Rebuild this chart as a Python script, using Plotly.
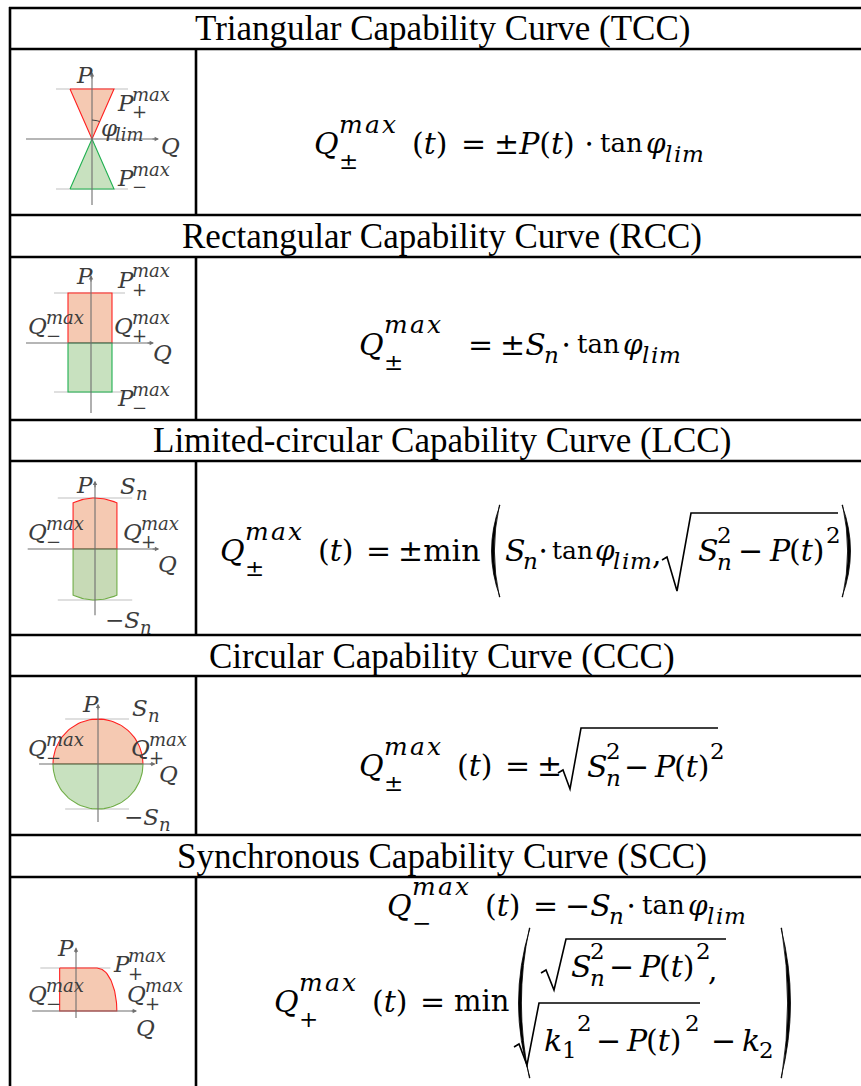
import numpy as np
import plotly.graph_objects as go

W, H = 861, 1086
MATH = "DejaVu Serif"
TITLE = "Liberation Serif"

# ---------------- data (normalised capability-curve parameters) ----------------
titles = ["Triangular Capability Curve (TCC)",
          "Rectangular Capability Curve (RCC)",
          "Limited-circular Capability Curve (LCC)",
          "Circular Capability Curve (CCC)",
          "Synchronous Capability Curve (SCC)"]
tcc_p_max = [1.0, 1.0]          # P+max, P-max
tcc_tan_phi = 0.44
rcc_p_max = [1.0, 0.98]
rcc_q_max = [0.46, 0.42]        # Q-max, Q+max
lcc_s_n = 1.0
lcc_q_lim = 0.43
ccc_s_n = 1.0
scc_p_max = 1.0
scc_q_minus = 0.38
scc_q_plus_top = 0.49
scc_q_plus_zero = 0.95

RED_FILL = "rgba(244,198,174,0.95)"
GREEN_FILL = "rgba(197,223,188,0.95)"
RED = "#ff2020"
GREEN = "#20b050"
AX = "#6f6f6f"
REF = "#c0c0c0"
LAB = "#3c3c3c"

fig = go.Figure()
annotations = []
shapes = []


def txt(x, y, s, size, italic=False, xanchor="left", color="black", family=MATH):
    if italic:
        s = f"<i>{s}</i>"
    annotations.append(dict(x=x / W, y=1 - y / H, xref="paper", yref="paper", text=s,
                            showarrow=False, xanchor=xanchor, yanchor="middle",
                            font=dict(size=size, family=family, color=color)))


SCW = {"m": 25, "a": 16, "x": 16, "l": 9, "i": 9, "n": 16}


def sc(x, y, s, size=24, italic=True, color="black"):
    """script text, letters spaced like the math font of the reference"""
    for ch in s:
        txt(x, y, ch, size, italic=italic, color=color)
        x += SCW.get(ch, 14) * size / 24


def line(x0, y0, x1, y1, w=2.6, color="black"):
    shapes.append(dict(type="line", xref="paper", yref="paper",
                       x0=x0 / W, y0=1 - y0 / H, x1=x1 / W, y1=1 - y1 / H,
                       line=dict(color=color, width=w)))


def pt(x, y):
    return f"{x / W:.5f},{1 - y / H:.5f}"


def big_paren(x_end, x_mid, y0, y1, left=True, thick=3.2):
    ym = (y0 + y1) / 2
    s = 1 if left else -1
    d = (f"M{pt(x_end, y0)} Q{pt(x_mid, ym)} {pt(x_end, y1)} "
         f"L{pt(x_end - 0.6 * s, y1)} Q{pt(x_mid + thick * 2 * s, ym)} {pt(x_end - 0.6 * s, y0)} Z")
    shapes.append(dict(type="path", xref="paper", yref="paper", path=d,
                       line=dict(color="black", width=0.8), fillcolor="black"))


def sqrt_sign(x0, ytick, x_bottom, y_bottom, x_top, y_top, x_end):
    d = (f"M{pt(x0, ytick + 3)} L{pt(x0 + 5, ytick)} L{pt(x_bottom, y_bottom)} "
         f"L{pt(x_top, y_top)} L{pt(x_end, y_top)}")
    shapes.append(dict(type="path", xref="paper", yref="paper", path=d,
                       line=dict(color="black", width=1.6)))


# ---------------- table grid ----------------
row_lines = [8, 49, 215, 257, 420, 461, 635, 676, 835, 877]
for y in row_lines:
    line(9, y, 861, y)
line(10, 7, 10, 1086)
cells = [(49, 215), (257, 420), (461, 635), (676, 835), (877, 1086)]
for y0, y1 in cells:
    line(196, y0, 196, y1)

title_y = [29, 236, 440, 656, 856]
for t, y in zip(titles, title_y):
    txt(442, y, t, 35, xanchor="center", family=TITLE)

# ---------------- small diagrams ----------------
panel_boxes = [(12, 194, 51, 213), (12, 194, 259, 418), (12, 194, 463, 633),
               (12, 194, 678, 833), (12, 194, 879, 1084)]
panel_origin = [(92, 139), (91, 343), (95, 549), (98, 764), (76, 1011)]
panel_scale = [50, 50, 51, 45, 43]

for i, ((x0, x1, y0, y1), (ox, oy), s) in enumerate(zip(panel_boxes, panel_origin, panel_scale)):
    k = "" if i == 0 else str(i + 1)
    fig.layout["xaxis" + k] = dict(domain=[x0 / W, x1 / W], range=[(x0 - ox) / s, (x1 - ox) / s],
                                   visible=False, fixedrange=True, anchor="y" + k)
    fig.layout["yaxis" + k] = dict(domain=[1 - y1 / H, 1 - y0 / H], range=[(oy - y1) / s, (oy - y0) / s],
                                   visible=False, fixedrange=True, anchor="x" + k)


def ax_ref(i):
    k = "" if i == 0 else str(i + 1)
    return "x" + k, "y" + k


def add(i, xs, ys, color, width=1.2, fill=None, fillcolor=None):
    xr, yr = ax_ref(i)
    fig.add_trace(go.Scatter(x=xs, y=ys, mode="lines", xaxis=xr, yaxis=yr,
                             line=dict(color=color, width=width), fill=fill,
                             fillcolor=fillcolor, hoverinfo="skip", showlegend=False))


def axes_arrows(i, q0, q1, p0, p1):
    xr, yr = ax_ref(i)
    add(i, [q0, q1], [0, 0], AX, 1.1)
    add(i, [0, 0], [p0, p1], AX, 1.1)
    for (hx, hy, tx, ty) in [(q1 + 0.06, 0, q1 - 0.1, 0), (0, p1 + 0.06, 0, p1 - 0.1)]:
        annotations.append(dict(x=hx, y=hy, ax=tx, ay=ty, xref=xr, yref=yr, axref=xr, ayref=yr,
                                text="", showarrow=True, arrowhead=2, arrowsize=0.8,
                                arrowwidth=1.1, arrowcolor=AX))


# Panel 1 : TCC
t = tcc_tan_phi
add(0, [-0.72, 0.72], [tcc_p_max[0]] * 2, REF, 1.2)
add(0, [-0.72, 0.72], [-tcc_p_max[1]] * 2, REF, 1.2)
add(0, [-t * tcc_p_max[0], t * tcc_p_max[0], 0, -t * tcc_p_max[0]],
    [tcc_p_max[0], tcc_p_max[0], 0, tcc_p_max[0]], RED, 1.1, "toself", RED_FILL)
add(0, [-t * tcc_p_max[1], t * tcc_p_max[1], 0, -t * tcc_p_max[1]],
    [-tcc_p_max[1], -tcc_p_max[1], 0, -tcc_p_max[1]], GREEN, 1.1, "toself", GREEN_FILL)
axes_arrows(0, -1.32, 1.28, -1.32, 1.28)
ang = np.linspace(np.pi / 2, np.arctan2(1, t), 12)
add(0, 0.38 * np.cos(ang), 0.38 * np.sin(ang), "#404040", 1.0)

# Panel 2 : RCC
add(1, [-0.74, 0.68], [rcc_p_max[0]] * 2, REF, 1.2)
add(1, [-0.74, 0.68], [-rcc_p_max[1]] * 2, REF, 1.2)
add(1, [-rcc_q_max[0], rcc_q_max[1], rcc_q_max[1], -rcc_q_max[0], -rcc_q_max[0]],
    [0, 0, rcc_p_max[0], rcc_p_max[0], 0], RED, 1.1, "toself", RED_FILL)
add(1, [-rcc_q_max[0], rcc_q_max[1], rcc_q_max[1], -rcc_q_max[0], -rcc_q_max[0]],
    [0, 0, -rcc_p_max[1], -rcc_p_max[1], 0], GREEN, 1.1, "toself", GREEN_FILL)
axes_arrows(1, -1.3, 1.2, -1.4, 1.3)

# Panel 3 : LCC
qq = np.linspace(-lcc_q_lim, lcc_q_lim, 30)
arc = np.sqrt(lcc_s_n ** 2 - qq ** 2)
add(2, [-0.73, 0.73], [lcc_s_n] * 2, REF, 1.2)
add(2, [-0.73, 0.73], [-lcc_s_n] * 2, REF, 1.2)
add(2, np.r_[-lcc_q_lim, qq, lcc_q_lim, -lcc_q_lim], np.r_[0, arc, 0, 0], RED, 1.1, "toself", RED_FILL)
add(2, np.r_[-lcc_q_lim, qq, lcc_q_lim, -lcc_q_lim], np.r_[0, -arc, 0, 0], "#70ad47", 1.1, "toself",
    "rgba(196,216,178,0.95)")
axes_arrows(2, -1.32, 1.2, -1.3, 1.28)

# Panel 4 : CCC
th = np.linspace(0, np.pi, 60)
add(3, [-0.73, 0.69], [ccc_s_n] * 2, REF, 1.2)
add(3, [-0.73, 0.69], [-ccc_s_n] * 2, REF, 1.2)
add(3, np.r_[ccc_s_n * np.cos(th), ccc_s_n], np.r_[ccc_s_n * np.sin(th), 0], RED, 1.1, "toself", RED_FILL)
add(3, np.r_[ccc_s_n * np.cos(th), ccc_s_n], np.r_[-ccc_s_n * np.sin(th), 0], "#70ad47", 1.1, "toself",
    GREEN_FILL)
axes_arrows(3, -1.31, 1.22, -1.29, 1.28)

# Panel 5 : SCC
pp = np.linspace(scc_p_max, 0, 30)
qc = scc_q_plus_top + (scc_q_plus_zero - scc_q_plus_top) * np.sqrt(1 - (pp / scc_p_max) ** 2)
add(4, [-0.83, 0.8], [scc_p_max] * 2, REF, 1.2)
add(4, np.r_[-scc_q_minus, qc, -scc_q_minus, -scc_q_minus], np.r_[scc_p_max, pp, 0, scc_p_max],
    RED, 1.1, "toself", RED_FILL)
axes_arrows(4, -1.02, 1.36, -0.16, 1.42)

# ---------------- diagram labels ----------------
LB, LS = 23, 18


def var(x, y, base, sup=None, sub=None, dx=15, size=LB, ssize=LS, dy_up=9, dy_dn=9, color=LAB):
    txt(x, y, base, size, italic=True, color=color)
    if sup:
        txt(x + dx, y - dy_up, sup, ssize, italic=True, color=color)
    if sub:
        txt(x + dx, y + dy_dn, sub, ssize, color=color)


def sn(x, y, minus=False):
    txt(x, y, ("−" if minus else "") + "<i>S</i>", LB, color=LAB)
    txt(x + (35 if minus else 16), y + 7, "n", LS, italic=True, color=LAB)


# panel 1
var(74, 75, "P")
var(115, 103, "P", "max", "+")
txt(99, 128, "φ", LB, italic=True, color=LAB)
txt(113, 134, "lim", LS, italic=True, color=LAB)
var(159, 146, "Q")
var(115, 178, "P", "max", "−")
# panel 2
var(74, 276, "P")
var(115, 280, "P", "max", "+")
var(26, 326, "Q", "max", "−", dx=18)
var(112, 326, "Q", "max", "+", dx=18)
var(151, 353, "Q")
var(115, 398, "P", "max", "−")
# panel 3
var(74, 485, "P")
sn(118, 486)
var(26, 532, "Q", "max", "−", dx=18)
var(121, 532, "Q", "max", "+", dx=18)
var(156, 564, "Q")
sn(103, 620, minus=True)
# panel 4
var(80, 704, "P")
sn(130, 708)
var(26, 748, "Q", "max", "−", dx=18)
var(129, 748, "Q", "max", "+", dx=18)
var(157, 774, "Q")
sn(122, 817, minus=True)
# panel 5
var(55, 948, "P")
var(111, 964, "P", "max", "+")
var(26, 994, "Q", "max", "−", dx=18)
var(125, 994, "Q", "max", "+", dx=18)
var(134, 1028, "Q")

# ---------------- formulas ----------------
F, S = 30, 23


def M(x, y, s, italic=False, size=F):
    txt(x, y, s, size, italic)


def qmax(x, y, sign):
    M(x, y, "Q", True)
    sc(x + 25, y - 19, "max", 25)
    txt(x + 25, y + 18, sign, S)


def tan_phi_lim(x, y, size=26):
    txt(x, y, "tan", size)
    M(x + 46, y, "φ", True, size=28)
    sc(x + 65, y + 11, "lim", S)


# row 1
y = 143
qmax(312, y, "±")
M(410, y, "(<i>t</i>)")
M(459, y, "=")
M(492, y, "±<i>P</i>(<i>t</i>)")
M(582, y, "⋅")
tan_phi_lim(598, y)

# row 2
y = 344
qmax(357, y, "±")
M(466, y, "=")
M(498, y, "±<i>S</i>")
sc(542, y + 11, "n", S)
M(559, y, "⋅")
tan_phi_lim(575, y)

# row 3
y = 550
qmax(218, y, "±")
M(316, y, "(<i>t</i>)")
M(364, y, "=")
M(396, y, "±min")
big_paren(500, 483, 505, 597, True)
M(503, y, "S", True)
sc(521, y + 11, "n", S)
M(536, y, "⋅")
txt(550, y, "tan", 25)
M(593, y, "φ", True, size=28)
sc(611, y + 11, "lim", S)
M(650, y + 3, ",")
sqrt_sign(662, 557, 677, 591, 691, 513, 838)
M(696, y, "S", True)
txt(715, y - 15, "2", S)
sc(715, y + 12, "n", S)
M(736, y, "−")
M(767, y, "P", True)
M(787, y, "(<i>t</i>)")
txt(824, y - 15, "2", S)
big_paren(842, 859, 505, 597, False)

# row 4
y = 765
qmax(357, y, "±")
M(455, y, "(<i>t</i>)")
M(503, y, "=")
M(535, y, "±")
sqrt_sign(558, 770, 570, 789, 581, 728, 718)
M(585, y + 1, "S", True)
txt(604, y - 14, "2", S)
sc(604, y + 13, "n", S)
M(622, y + 1, "−")
M(652, y + 1, "P", True)
M(672, y + 1, "(<i>t</i>)")
txt(708, y - 14, "2", S)

# row 5, first line
y = 905
qmax(385, y, "−")
M(483, y, "(<i>t</i>)")
M(531, y, "=")
M(563, y, "−<i>S</i>")
sc(607, y + 11, "n", S)
M(624, y, "⋅")
tan_phi_lim(640, y)

# row 5, second formula
y = 1001
qmax(272, y, "+")
M(370, y, "(<i>t</i>)")
M(418, y, "=")
txt(452, y, "min", 29)
big_paren(530, 507, 928, 1078, True)
y1 = 966
sqrt_sign(541, y1 + 4, 554, 990, 566, 939, 726)
M(569, y1, "S", True)
txt(588, y1 - 15, "2", S)
sc(588, y1 + 12, "n", S)
M(607, y1, "−")
M(637, y1, "P", True)
M(657, y1, "(<i>t</i>)")
txt(694, y1 - 15, "2", S)
M(706, y1 + 3, ",")
y2 = 1040
sqrt_sign(514, y2 + 4, 527, 1065, 539, 1003, 700)
M(542, y2, "k", True)
txt(560, y2 + 10, "1", S)
txt(575, y2 - 17, "2", S)
M(594, y2, "−")
M(624, y2, "P", True)
M(644, y2, "(<i>t</i>)")
txt(683, y2 - 17, "2", S)
M(709, y2, "−")
M(740, y2, "k", True)
txt(757, y2 + 10, "2", S)
big_paren(781, 800, 928, 1078, False)

fig.update_layout(width=W, height=H, margin=dict(l=0, r=0, t=0, b=0),
                  paper_bgcolor="white", plot_bgcolor="rgba(0,0,0,0)",
                  annotations=annotations, shapes=shapes, showlegend=False)
fig.write_html("out.html")
